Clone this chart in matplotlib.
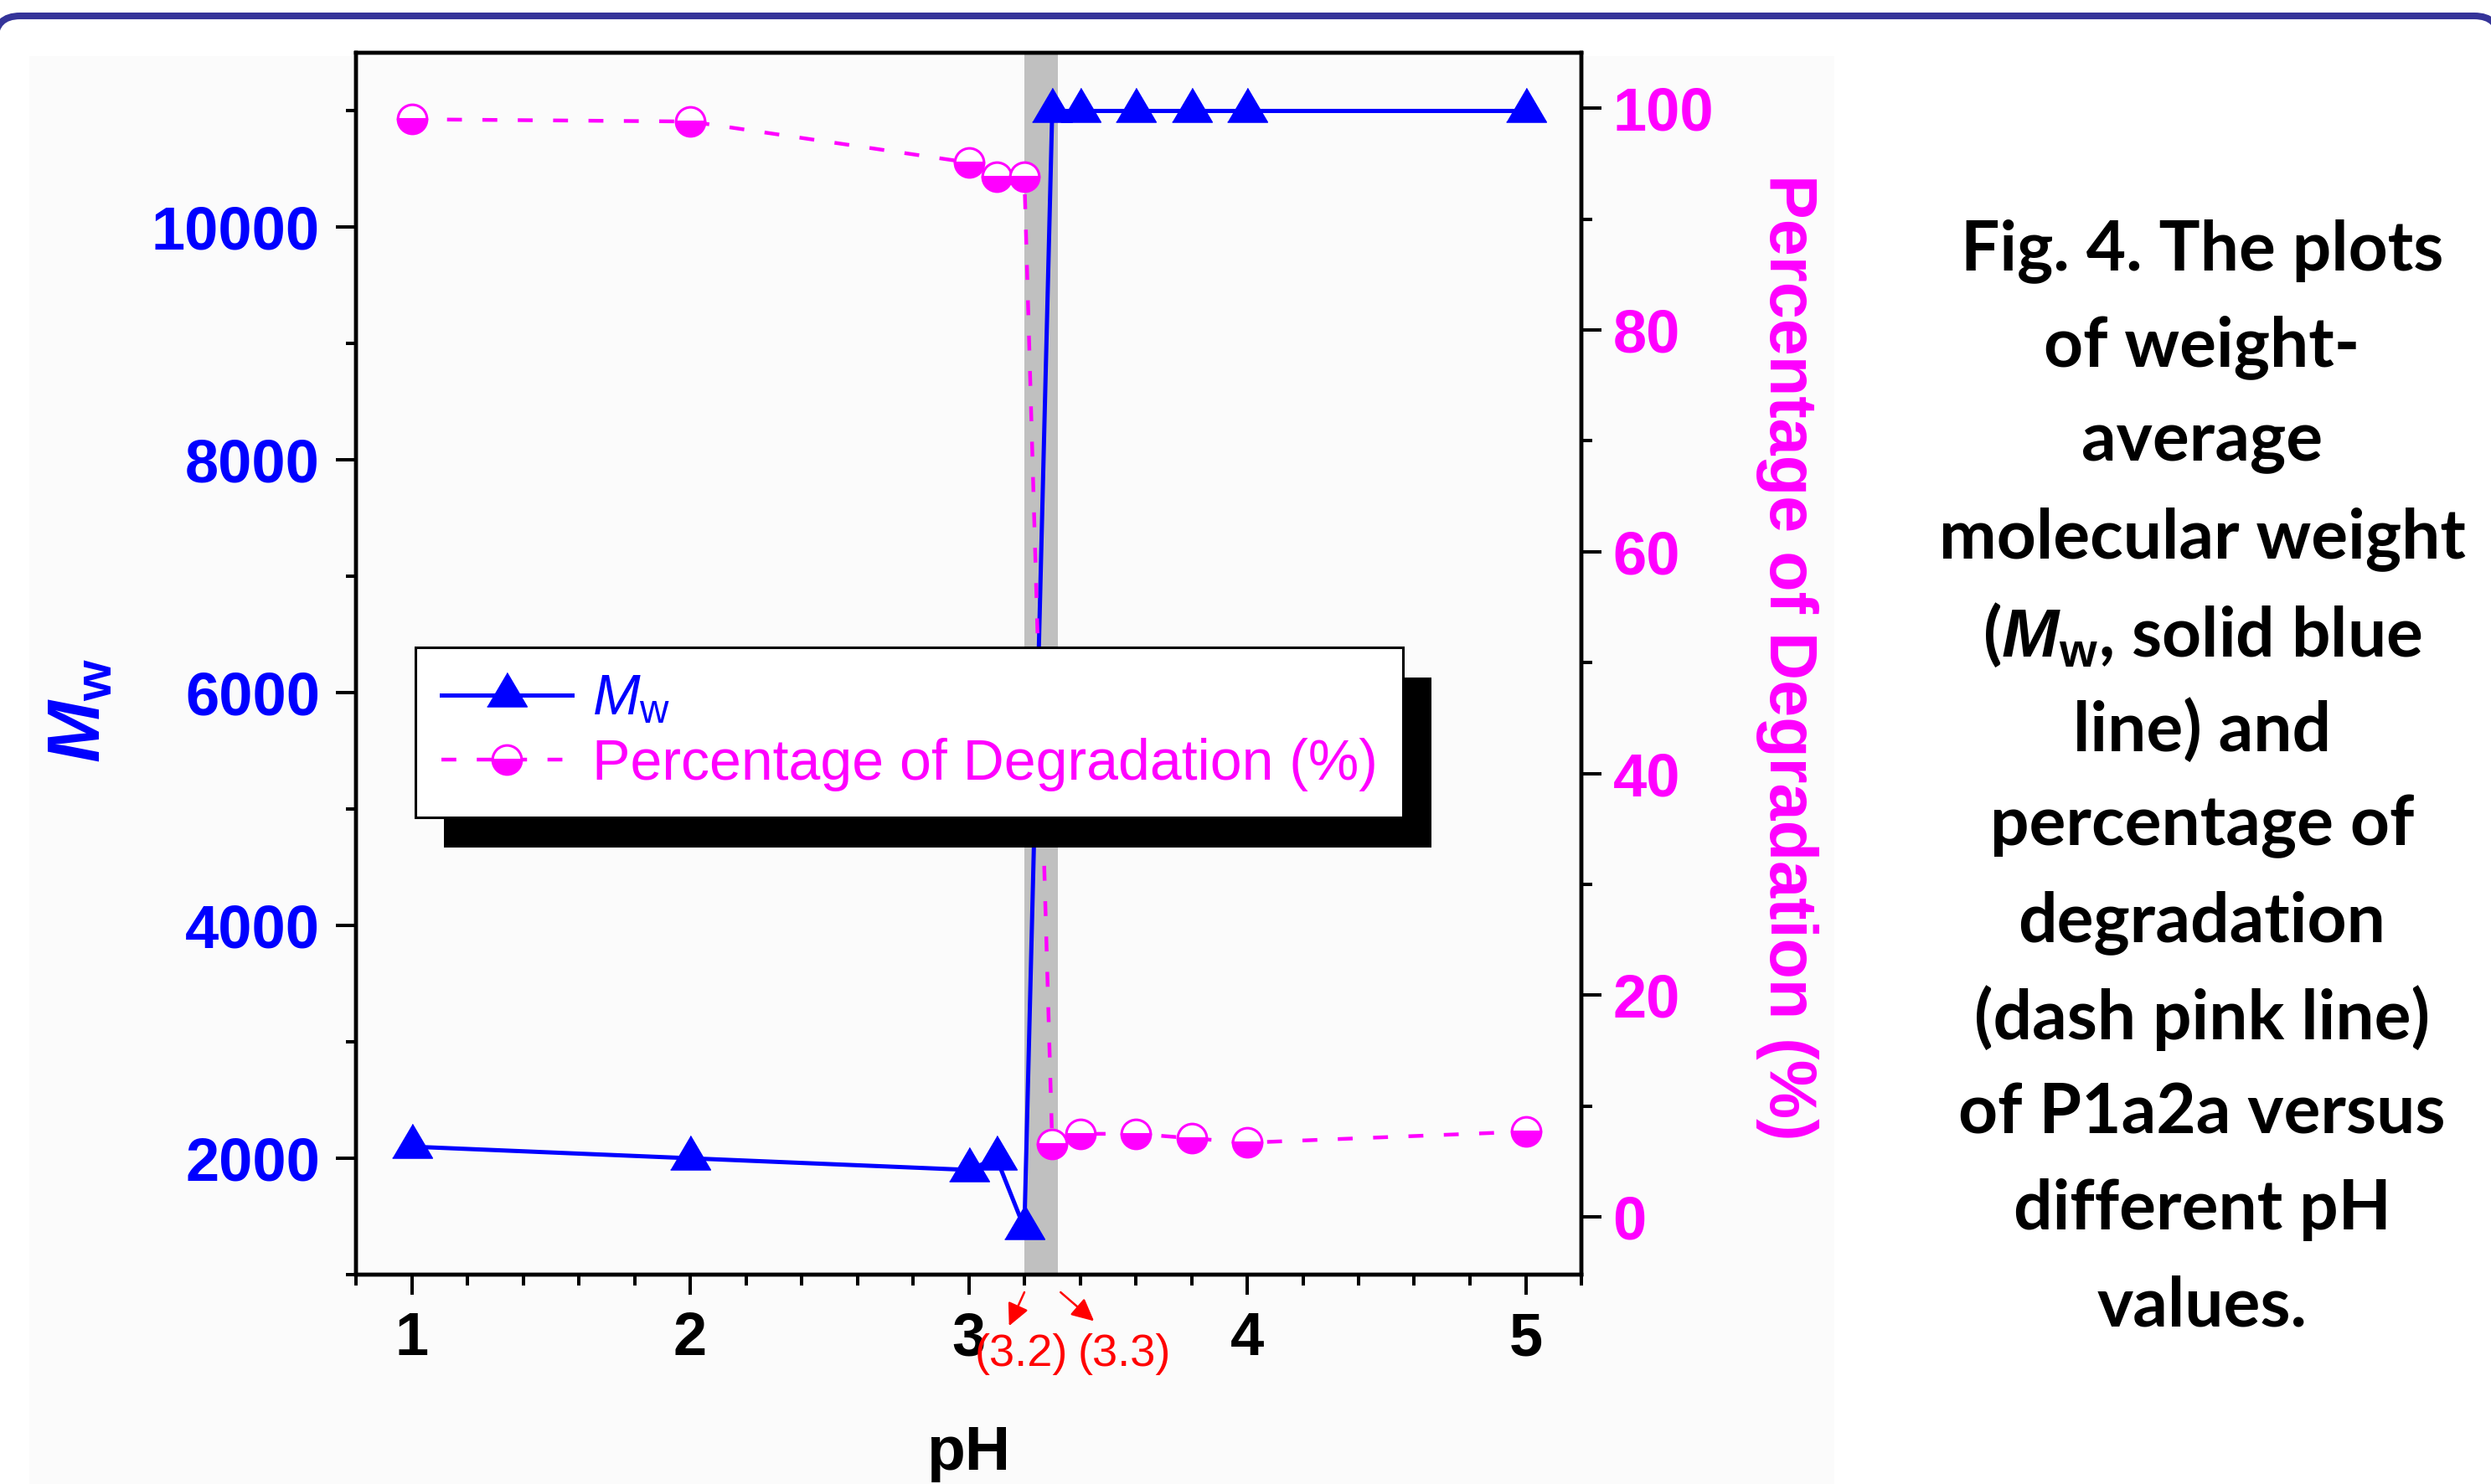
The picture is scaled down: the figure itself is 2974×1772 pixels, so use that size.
import matplotlib
matplotlib.use("Agg")
import matplotlib.pyplot as plt
from matplotlib.patches import Rectangle, PathPatch
from matplotlib.path import Path
from matplotlib.transforms import IdentityTransform
from matplotlib.ticker import MultipleLocator

plt.rcParams["font.family"] = ["Liberation Sans", "DejaVu Sans"]
plt.rcParams["mathtext.fontset"] = "custom"
plt.rcParams["mathtext.rm"] = "Liberation Sans"
plt.rcParams["mathtext.it"] = "Liberation Sans:italic"
plt.rcParams["mathtext.bf"] = "Liberation Sans:bold"
plt.rcParams["mathtext.bfit"] = "Liberation Sans:italic:bold"

# ---------------------------------------------------------------------------
# data
# ---------------------------------------------------------------------------
ph = [1.0, 2.0, 3.0, 3.1, 3.2, 3.3, 3.4, 3.6, 3.8, 4.0, 5.0]
mw = [2100, 2000, 1900, 2000, 1400, 11000, 11000, 11000, 11000, 11000, 11000]
degradation = [99.0, 98.8, 95.1, 93.8, 93.8, 6.6, 7.5, 7.5, 7.1, 6.7, 7.7]

transition_band = (3.2, 3.32)
ph_ticks = [1, 2, 3, 4, 5]
mw_ticks = [2000, 4000, 6000, 8000, 10000]
deg_ticks = [0, 20, 40, 60, 80, 100]
marked_ph = ["(3.2)", "(3.3)"]

caption_lines = [
    "Fig. 4. The plots",
    "of weight-",
    "average",
    "molecular weight",
    r"($\mathbfit{M}_\mathbf{w}$, solid blue",
    "line) and",
    "percentage of",
    "degradation",
    "(dash pink line)",
    "of P1a2a versus",
    "different pH",
    "values.",
]

BLUE = "#0000ff"
PINK = "#ff00ff"

W, H = 2974, 1772
fig = plt.figure(figsize=(W / 100, H / 100), dpi=100)
fig.patch.set_facecolor("white")

# slide frame: only the rounded top edge shows on the canvas
top = H - 19
r = 30
verts = [(-6, top - 200), (-6, top - r), (-6, top), (-6 + r, top),
         (W + 10 - r, top), (W + 10, top), (W + 10, top - r), (W + 10, top - 200)]
codes = [Path.MOVETO, Path.LINETO, Path.CURVE3, Path.CURVE3,
         Path.LINETO, Path.CURVE3, Path.CURVE3, Path.LINETO]
fig.add_artist(PathPatch(Path(verts, codes), transform=IdentityTransform(),
                         facecolor="none", edgecolor="#343399", lw=5.8, zorder=2))

# faint scanned-figure background
fig.add_artist(Rectangle((35, 0), 2155, H - 67, transform=IdentityTransform(),
                         facecolor="#fbfbfb", edgecolor="none", zorder=0))

ax1 = fig.add_axes([425 / W, 1 - 1522 / H, 1463 / W, 1459 / H])
ax1.set_facecolor("none")
ax2 = ax1.twinx()

ax1.axvspan(*transition_band, color="#c0c0c0", lw=0, zorder=0.5)

tri = [(-1, -0.567), (1, -0.567), (0, 1.133)]
l1, = ax1.plot(ph, mw, color=BLUE, lw=3.6, marker=tri, ms=39,
               mfc=BLUE, mec=BLUE, zorder=3)
l2, = ax2.plot(ph, degradation, color=PINK, lw=3.2, ls=(0, (4, 5.5)),
               marker="o", ms=25, fillstyle="bottom", mfc=PINK,
               mfcalt="white", mec=PINK, mew=2.2, zorder=3)

ax1.set_xlim(0.8, 5.2)
ax1.set_ylim(1000, 11500)
ax2.set_ylim(-5.2, 105)

ax1.set_xticks(ph_ticks, labels=[str(v) for v in ph_ticks],
               fontsize=52, fontweight="bold")
ax1.set_yticks(mw_ticks, labels=[str(v) for v in mw_ticks],
               fontsize=52, fontweight="bold", color=BLUE)
ax2.set_yticks(deg_ticks, labels=[str(v) for v in deg_ticks],
               fontsize=52, fontweight="bold", color=PINK)
ax1.xaxis.set_minor_locator(MultipleLocator(0.2))
ax1.yaxis.set_minor_locator(MultipleLocator(1000))
ax2.yaxis.set_minor_locator(MultipleLocator(10))

for ax in (ax1, ax2):
    ax.tick_params(which="major", direction="out", length=17, width=2.9)
    ax.tick_params(which="minor", direction="out", length=9, width=2.9)
    for sp in ax.spines.values():
        sp.set_linewidth(3.2)
ax1.tick_params(axis="y", pad=14)
ax1.tick_params(axis="x", pad=14)
ax2.tick_params(axis="y", pad=10)

ax1.set_xlabel("pH", fontsize=54, fontweight="bold", va="center")
ax1.xaxis.set_label_coords(0.5, -0.146)
ax1.set_ylabel(r"$\mathbfit{M}_\mathbf{w}$", fontsize=64, color=BLUE, va="center")
ax1.yaxis.set_label_coords(-0.224, 0.462)
ax2.set_ylabel("Percentage of Degradation (%)", fontsize=57, fontweight="bold",
               color=PINK, rotation=270, va="center")
ax2.yaxis.set_label_coords(1.168, 0.505)

# arrows marking the transition pH values
xt = ax1.get_xaxis_transform()
arrow = dict(arrowstyle="-|>,head_length=0.45,head_width=0.22", color="red",
             lw=1.8, mutation_scale=36, shrinkA=0, shrinkB=0)
ax1.annotate("", xy=(3.145, -0.042), xytext=(3.2, -0.0144), xycoords=xt,
             textcoords=xt, arrowprops=arrow, annotation_clip=False)
ax1.annotate("", xy=(3.45, -0.038), xytext=(3.33, -0.0144), xycoords=xt,
             textcoords=xt, arrowprops=arrow, annotation_clip=False)
for x, s in zip([3.19, 3.56], marked_ph):
    ax1.text(x, -0.065, s, transform=xt, ha="center", va="center",
             fontsize=39, color="red", clip_on=False)

leg = ax2.legend([l1, l2], [r"$\mathit{M}_\mathrm{w}$", "Percentage of Degradation (%)"],
                 loc="upper left", bbox_to_anchor=(0.0485, 0.5134), borderaxespad=0,
                 fancybox=False, framealpha=1, edgecolor="black", fontsize=49,
                 handlelength=2.3, handletextpad=0.35, borderpad=0.45,
                 labelspacing=0.2)
leg.get_frame().set_linewidth(2.2)
leg.get_texts()[0].set_color(BLUE)
leg.get_texts()[1].set_color(PINK)

# Origin-style offset shadow behind the legend
fig.canvas.draw()
bb = leg.get_window_extent()
shadow = Rectangle((bb.x0 + 34, bb.y0 - 36), bb.width, bb.height,
                   transform=IdentityTransform(), facecolor="black",
                   edgecolor="none", zorder=leg.get_zorder() - 0.5)
ax2.add_artist(shadow)

# caption on the right
for i, line in enumerate(caption_lines):
    fig.text(2629 / W, 1 - (300 + i * 114.5) / H, line, ha="center", va="center",
             fontsize=59, fontweight="bold", family=["Lato", "DejaVu Sans"])

fig.savefig("out.png", dpi=100)
